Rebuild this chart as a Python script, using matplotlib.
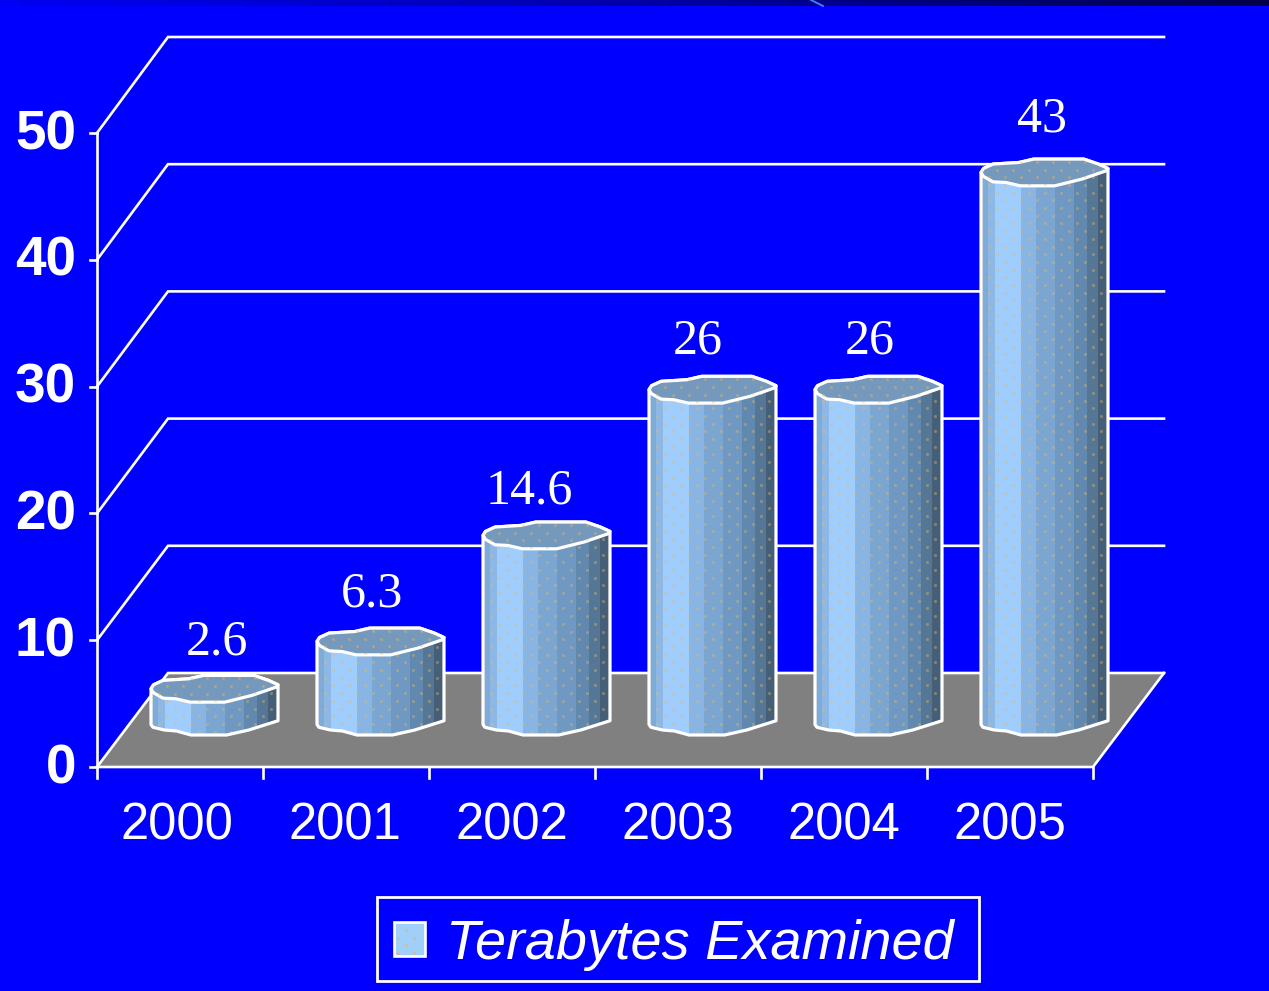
import numpy as np
from matplotlib import pyplot as plt
from matplotlib.patches import Patch, Polygon, Rectangle
from matplotlib.colors import LinearSegmentedColormap

# chart values
years = ['2000', '2001', '2002', '2003', '2004', '2005']
terabytes = [2.6, 6.3, 14.6, 26, 26, 43]
value_labels = ['2.6', '6.3', '14.6', '26', '26', '43']
y_ticks = [0, 10, 20, 30, 40, 50]
series_name = 'Terabytes Examined'

W, H = 1269, 991
X0, Y0 = 97, 767      # pixel of category 0 / value 0
PX_X, PX_Y = 166, 12.68  # pixels per category / per value unit
DEPTH_X, DEPTH_Y = 71 / PX_X, 94 / PX_Y
BACK_SCALE = 12.72 / PX_Y

BLUE = '#0000ff'
WHITE = 'white'

# faceted cylinder look: outline of the top face, then shading bands
TOP_UPPER = [(-1.0, 0.0), (-0.96, 0.32), (-0.81, 0.67), (-0.4, 0.8), (-0.17, 1.07), (0.62, 1.07),
             (0.85, 0.67), (1.0, 0.32)]
TOP_LOWER = [(1.0, 0.32), (0.97, 0.13), (0.59, -0.53), (0.16, -1.07), (-0.38, -1.07), (-0.61, -0.8),
             (-0.81, -0.75), (-0.96, -0.32), (-1.0, 0.0)]
BASE_LOWER = [(1.0, 0.1), (0.54, -0.64), (0.19, -1.04), (-0.37, -1.04), (-0.6, -0.72), (-0.79, -0.64),
              (-0.97, -0.42), (-1.0, -0.2)]
BAND_EDGES = [-1.0, -0.89, -0.78, -0.37, -0.14, 0.17, 0.46, 0.67, 0.84, 1.0]
BAND_COLORS = ['#7fabd9', '#8db8e6', '#9fcdfd', '#88b5e3', '#7ba6d1', '#6f99c2',
               '#6188ae', '#557795', '#465f78']


def px_x(x):
    return (x - X0) / PX_X


def px_y(y):
    return (Y0 - y) / PX_Y


def add_dots(ax, x0, x1, y0, y1, clip, zorder=4, alpha=0.4):
    step_x, step_y = 16 / PX_X, 7.7 / PX_Y
    rows = np.arange(y0, y1, step_y)
    for n, row in enumerate(rows):
        xs = np.arange(x0 + (n % 2) * step_x / 2, x1, step_x)
        dots = ax.scatter(xs, np.full(len(xs), row), s=5, color='#e8b860', alpha=alpha,
                          linewidths=0, zorder=zorder)
        dots.set_clip_path(clip)


def draw_cylinder(ax, center, value):
    half_w = 63.5 / PX_X
    half_h = 12.5 / PX_Y
    base = px_y(722)
    top = base + value * 12.78 / PX_Y

    upper = [(center + a * half_w, top + b * half_h) for a, b in TOP_UPPER]
    lower = [(center + a * half_w, top + b * half_h) for a, b in TOP_LOWER]
    bottom = [(center + a * half_w, base + b * half_h) for a, b in BASE_LOWER]

    body = Polygon(upper + bottom, closed=True, facecolor='none', edgecolor='none', zorder=3)
    ax.add_patch(body)
    for k, color in enumerate(BAND_COLORS):
        x0 = center + BAND_EDGES[k] * half_w
        x1 = center + BAND_EDGES[k + 1] * half_w
        band = Rectangle((x0, base - 2 * half_h), x1 - x0, top - base + 4 * half_h,
                         facecolor=color, edgecolor='none', zorder=3)
        ax.add_patch(band)
        band.set_clip_path(body)
    add_dots(ax, center - half_w, center + half_w, base - 2 * half_h, top, body)

    outline = Polygon(upper + bottom, closed=True, facecolor='none', edgecolor=WHITE,
                      linewidth=2.3, joinstyle='round', zorder=5)
    ax.add_patch(outline)

    face = Polygon(upper + lower, closed=True, facecolor='#7499bd', edgecolor=WHITE,
                   linewidth=2.3, joinstyle='round', zorder=5)
    ax.add_patch(face)
    add_dots(ax, center - half_w, center + half_w, top - half_h, top + 1.2 * half_h, face, zorder=6)


def main():
    plt.rcParams['font.family'] = ['Liberation Sans', 'DejaVu Sans']

    fig = plt.figure(figsize=(W / 100, H / 100), dpi=100, facecolor=BLUE)
    ax = fig.add_axes([0, 0, 1, 1])
    ax.set_facecolor(BLUE)
    ax.axis('off')

    # dark strip along the top edge
    strip = LinearSegmentedColormap.from_list('strip', ['#0000f4', '#0000a8', '#00004a'])
    ax.imshow(np.linspace(0, 1, 256).reshape(1, -1), cmap=strip, aspect='auto', zorder=1,
              extent=(px_x(0), px_x(W), px_y(6), px_y(0)))
    ax.plot([px_x(811), px_x(823)], [px_y(0), px_y(6)], color='#3f7fe8', lw=1.4, zorder=1)
    ax.set_xlim(px_x(0), px_x(W))
    ax.set_ylim(px_y(H), px_y(0))

    n = len(years)

    # floor
    floor = Polygon([(0, 0), (n, 0), (n + DEPTH_X, DEPTH_Y), (DEPTH_X, DEPTH_Y)], closed=True,
                    facecolor='#808080', edgecolor='none', zorder=2)
    ax.add_patch(floor)

    # back wall lines and left wall diagonals
    for v in y_ticks:
        back = v * BACK_SCALE + DEPTH_Y
        ax.plot([0, DEPTH_X, n + DEPTH_X], [v, back, back], color=WHITE, lw=1.9,
                solid_joinstyle='miter', zorder=2)
        ax.plot([-7 / PX_X, 0], [v, v], color=WHITE, lw=1.9, zorder=2)
        ax.text(px_x(76), v - 2 / PX_Y, str(v), color=WHITE, fontsize=39.5, fontweight='bold',
                ha='right', va='center', zorder=7)

    # front floor edge and axes
    ax.plot([DEPTH_X + n, n, 0], [DEPTH_Y, 0, 0], color=WHITE, lw=1.9, zorder=2)
    ax.plot([0, 0], [y_ticks[-1], -11 / PX_Y], color=WHITE, lw=1.9, zorder=2)
    for i in range(1, n + 1):
        ax.plot([i, i], [0, -11 / PX_Y], color=WHITE, lw=1.9, zorder=2)

    year_dx = [-3, -1, 0, 0, 0, 0]
    for i, year in enumerate(years):
        ax.text(i + 0.5 + year_dx[i] / PX_X, px_y(826), year, color=WHITE, fontsize=36.5,
                ha='center', va='center', zorder=7)

    # cylinders
    label_dx = [2, -8, -17, -15, -9, -2]
    label_dy = [47, 47, 44, 48, 48, 53]
    for i, value in enumerate(terabytes):
        center = i + 0.5 + 34.5 / PX_X
        draw_cylinder(ax, center, value)
        top = px_y(722) + value * 12.78 / PX_Y
        ax.text(center + label_dx[i] / PX_X, top + label_dy[i] / PX_Y, value_labels[i], color=WHITE,
                family='Liberation Serif', fontsize=36, ha='center', va='center', zorder=7)

    # legend
    ax.add_patch(Rectangle((px_x(377), px_y(981)), 602 / PX_X, 84 / PX_Y, facecolor=BLUE,
                           edgecolor=WHITE, linewidth=2.0, zorder=2))
    handle = Patch(facecolor='#a0cffa', edgecolor=WHITE, linewidth=1.9)
    leg = ax.legend(handles=[handle], labels=[series_name], loc='center left',
                    bbox_to_anchor=(394 / W, 1 - 945 / H), bbox_transform=fig.transFigure,
                    frameon=False, prop={'family': 'Liberation Sans', 'style': 'italic', 'size': 40.2},
                    handlelength=0.55, handleheight=0.55, handletextpad=0.38,
                    borderpad=0, borderaxespad=0)
    leg.set_zorder(3)
    for text in leg.get_texts():
        text.set_color(WHITE)
    swatch = Rectangle((px_x(395), px_y(956)), 30 / PX_X, 30 / PX_Y, facecolor='none',
                       edgecolor='none', zorder=3)
    ax.add_patch(swatch)
    add_dots(ax, px_x(398), px_x(420), px_y(953), px_y(926), swatch, zorder=4, alpha=0.7)

    fig.savefig('out.png', dpi=100, facecolor=BLUE)


if __name__ == '__main__':
    main()
